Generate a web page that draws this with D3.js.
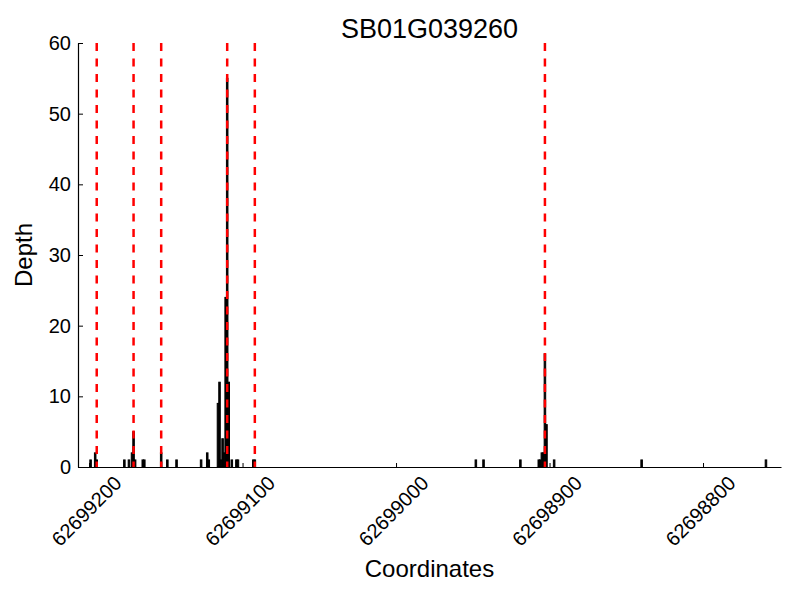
<!DOCTYPE html>
<html>
<head>
<meta charset="utf-8">
<script src="https://cdn.jsdelivr.net/npm/d3@7"></script>
<style>
  body { margin: 0; background: #fff; }
  svg { display: block; }
  text { font-family: "Liberation Sans", Arial, sans-serif; fill: #000; }
</style>
</head>
<body>
<svg id="chart" width="800" height="600"></svg>
<script>
const title = "SB01G039260";
const xLabel = "Coordinates";
const yLabel = "Depth";

const positions = [
  62699199, 62699196, 62699195,
  62699177, 62699174, 62699172, 62699171, 62699170, 62699165, 62699164,
  62699153, 62699149, 62699143,
  62699127, 62699123, 62699122,
  62699116, 62699115, 62699114, 62699113, 62699112, 62699111, 62699110, 62699109,
  62699107, 62699104, 62699103,
  62699093, 62699092,
  62698948, 62698943, 62698919,
  62698907, 62698906, 62698905, 62698904, 62698903, 62698902, 62698897,
  62698840, 62698759
];
const depths = [
  1, 2, 1,
  1, 1, 2, 5, 1, 1, 1,
  2, 1, 1,
  1, 2, 1,
  9, 12, 1, 4, 2, 24, 55, 12,
  1, 1, 1,
  1, 1,
  1, 1, 1,
  1, 1, 2, 2, 16, 6, 1,
  1, 1
];
const markers = [62699195, 62699171, 62699153, 62699110, 62699092, 62698903];
const xTicks = [62699200, 62699100, 62699000, 62698900, 62698800];
const yTicks = [0, 10, 20, 30, 40, 50, 60];
const xDomain = [62699207.2, 62698749.2];
const yDomain = [0, 60];

const svg = d3.select("#chart");
const L = 78, R = 781, T = 43, B = 467;

const x = d3.scaleLinear().domain(xDomain).range([L, R]);
const y = d3.scaleLinear().domain(yDomain).range([B, T]);

const data = positions.map((p, i) => ({ p, d: depths[i] }));

// bars
const bw = Math.abs(x(1) - x(0));
svg.append("g").selectAll("rect").data(data).join("rect")
  .attr("x", d => x(d.p) - bw / 2)
  .attr("y", d => y(d.d))
  .attr("width", bw)
  .attr("height", d => y(0) - y(d.d))
  .attr("fill", "#000")
  .attr("stroke", "#000")
  .attr("stroke-width", 1);

// red dashed markers
svg.append("g").selectAll("line").data(markers).join("line")
  .attr("x1", d => x(d)).attr("x2", d => x(d))
  .attr("y1", T).attr("y2", B)
  .attr("stroke", "#ff0000")
  .attr("stroke-width", 2.5)
  .attr("stroke-dasharray", "8,7.5");

// axes (ticks inward)
const yAxis = d3.axisLeft(y).tickValues(yTicks).tickSizeInner(-5).tickSizeOuter(0).tickPadding(8);
const gy = svg.append("g").attr("transform", `translate(${L},0)`).call(yAxis);
gy.select(".domain").attr("stroke", "#000").attr("stroke-width", 1.2);
gy.selectAll(".tick line").attr("stroke", "#000");
gy.selectAll(".tick text").attr("font-size", 20).attr("font-family", "Liberation Sans, Arial, sans-serif").attr("x", -7);

const xAxis = d3.axisBottom(x).tickValues(xTicks).tickSizeInner(-4).tickSizeOuter(0).tickFormat(d3.format("d"));
const gx = svg.append("g").attr("transform", `translate(0,${B})`).call(xAxis);
gx.select(".domain").attr("stroke", "#000").attr("stroke-width", 1.2);
gx.selectAll(".tick line").attr("stroke", "#000");
gx.selectAll(".tick text")
  .attr("font-size", 20)
  .attr("font-family", "Liberation Sans, Arial, sans-serif")
  .attr("text-anchor", "middle")
  .attr("y", 0).attr("dy", "0.35em")
  .attr("transform", "translate(-3,44) rotate(-45)");

// labels
svg.append("text").attr("x", (L + R) / 2).attr("y", 38)
  .attr("text-anchor", "middle").attr("font-size", 27).text(title);
svg.append("text").attr("x", (L + R) / 2).attr("y", 577)
  .attr("text-anchor", "middle").attr("font-size", 24).text(xLabel);
svg.append("text").attr("transform", `translate(32,${(T + B) / 2}) rotate(-90)`)
  .attr("text-anchor", "middle").attr("font-size", 24).text(yLabel);
</script>
</body>
</html>
